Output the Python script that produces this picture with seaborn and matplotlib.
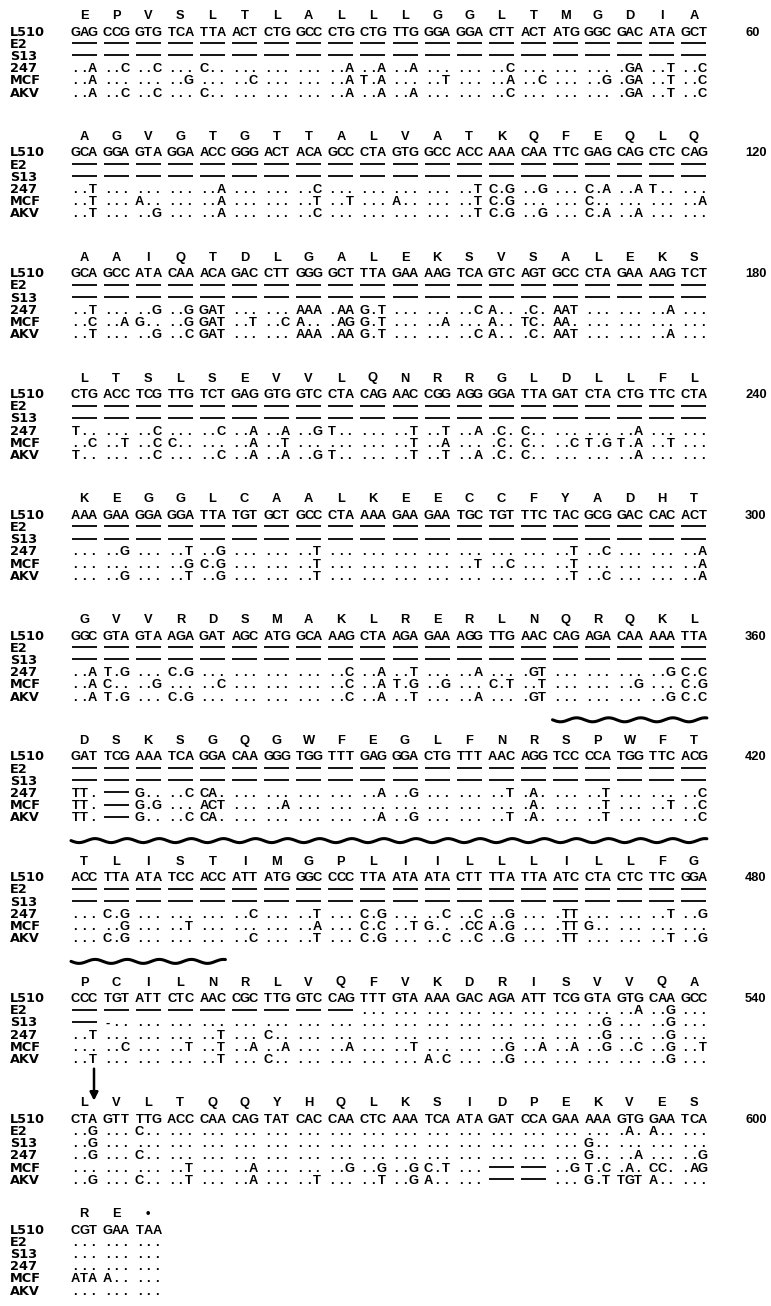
import numpy as np
import matplotlib
matplotlib.use("Agg")
import matplotlib.pyplot as plt
import seaborn as sns

# strain names, top to bottom
strains = ['L510', 'E2', 'S13', '247', 'MCF', 'AKV']
# last nucleotide number at the end of each L510 line
nt_numbers = ['60', '120', '180', '240', '300', '360', '420', '480', '540', '600', '']

aa_rows = [
    "E P V S L T L A L L L G G L T M G D I A",
    "A G V G T G T T A L V A T K Q F E Q L Q",
    "A A I Q T D L G A L E K S V S A L E K S",
    "L T S L S E V V L Q N R R G L D L L F L",
    "K E G G L C A A L K E E C C F Y A D H T",
    "G V V R D S M A K L R E R L N Q R Q K L",
    "D S K S G Q G W F E G L F N R S P W F T",
    "T L I S T I M G P L I I L L L I L L F G",
    "P C I L N R L V Q F V K D R I S V V Q A",
    "L V L T Q Q Y H Q L K S I D P E K V E S",
    "R E •",
]

l510_rows = [
    "GAG CCG GTG TCA TTA ACT CTG GCC CTG CTG TTG GGA GGA CTT ACT ATG GGC GAC ATA GCT",
    "GCA GGA GTA GGA ACC GGG ACT ACA GCC CTA GTG GCC ACC AAA CAA TTC GAG CAG CTC CAG",
    "GCA GCC ATA CAA ACA GAC CTT GGG GCT TTA GAA AAG TCA GTC AGT GCC CTA GAA AAG TCT",
    "CTG ACC TCG TTG TCT GAG GTG GTC CTA CAG AAC CGG AGG GGA TTA GAT CTA CTG TTC CTA",
    "AAA GAA GGA GGA TTA TGT GCT GCC CTA AAA GAA GAA TGC TGT TTC TAC GCG GAC CAC ACT",
    "GGC GTA GTA AGA GAT AGC ATG GCA AAG CTA AGA GAA AGG TTG AAC CAG AGA CAA AAA TTA",
    "GAT TCG AAA TCA GGA CAA GGG TGG TTT GAG GGA CTG TTT AAC AGG TCC CCA TGG TTC ACG",
    "ACC TTA ATA TCC ACC ATT ATG GGC CCC TTA ATA ATA CTT TTA TTA ATC CTA CTC TTC GGA",
    "CCC TGT ATT CTC AAC CGC TTG GTC CAG TTT GTA AAA GAC AGA ATT TCG GTA GTG CAA GCC",
    "CTA GTT TTG ACC CAA CAG TAT CAC CAA CTC AAA TCA ATA GAT CCA GAA AAA GTG GAA TCA",
    "CGT GAA TAA",
]

e2_rows = [
    "— — — — — — — — — — — — — — — — — — — —",
    "— — — — — — — — — — — — — — — — — — — —",
    "— — — — — — — — — — — — — — — — — — — —",
    "— — — — — — — — — — — — — — — — — — — —",
    "— — — — — — — — — — — — — — — — — — — —",
    "— — — — — — — — — — — — — — — — — — — —",
    "— — — — — — — — — — — — — — — — — — — —",
    "— — — — — — — — — — — — — — — — — — — —",
    "— — — — — — — — — ... ... ... ... ... ... ... ... ..A ..G ...",
    "..G ... C.. ... ... ... ... ... ... ... ... ... ... ... ... ... ... .A. A.. ...",
    "... ... ...",
]

s13_rows = [
    "— — — — — — — — — — — — — — — — — — — —",
    "— — — — — — — — — — — — — — — — — — — —",
    "— — — — — — — — — — — — — — — — — — — —",
    "— — — — — — — — — — — — — — — — — — — —",
    "— — — — — — — — — — — — — — — — — — — —",
    "— — — — — — — — — — — — — — — — — — — —",
    "— — — — — — — — — — — — — — — — — — — —",
    "— — — — — — — — — — — — — — — — — — — —",
    "— -.. ... ... ... ... ... ... ... ... ... ... ... ... ... ... ..G ... ..G ...",
    "..G ... ... ... ... ... ... ... ... ... ... ... ... ... ... ... G.. ... ... ...",
    "... ... ...",
]

r247_rows = [
    "..A ..C ..C ... C.. ... ... ... ..A ..A ..A ... ... ..C ... ... ... .GA ..T ..C",
    "..T ... ... ... ..A ... ... ..C ... ... ... ... ..T C.G ..G ... C.A ..A T.. ...",
    "..T ... ..G ..G GAT ... ... AAA .AA G.T ... ... ..C A.. .C. AAT ... ... ..A ...",
    "T.. ... ..C ... ..C ..A ..A ..G T.. ... ..T ..T ..A .C. C.. ... ... ..A ... ...",
    "... ..G ... ..T ..G ... ... ..T ... ... ... ... ... ... ... ..T ..C ... ... ..A",
    "..A T.G ... C.G ... ... ... ... ..C ..A ..T ... ..A ... .GT ... ... ... ..G C.C",
    "TT. — G.. ..C CA. ... ... ... ... ..A ..G ... ... ..T .A. ... ..T ... ... ..C",
    "... C.G ... ... ... ..C ... ..T ... C.G ... ..C ..C ..G ... .TT ... ... ..T ..G",
    "..T ... ... ... ..T ... C.. ... ... ... ... ... ... ... ... ... ..G ... ..G ...",
    "..G ... C.. ... ... ... ... ... ... ... ... ... ... ... ... ... G.. ..A ... ..G",
    "... ... ...",
]

mcf_rows = [
    "..A ... ... ..G ... ..C ... ... ..A T.A ... ..T ... ..A ..C ... ..G .GA ..T ..C",
    "..T ... A.. ... ..A ... ... ..T ..T ... A.. ... ..T C.G ... ... C.. ... ... ..A",
    "..C ..A G.. ..G GAT ..T ..C A.. .AG G.T ... ..A ... A.. TC. AA. ... ... ... ...",
    "..C ..T ..C C.. ... ..A ..T ... ... ... ..T ..A ... .C. C.. ..C T.G T.A ..T ...",
    "... ... ... ..G C.G ... ... ..T ... ... ... ... ..T ..C ... ..T ... ... ... ..A",
    "..A C.. ..G ... ..C ... ... ... ..C ..A T.G ..G ... C.T ..T ... ... ..G ... C.G",
    "TT. — G.G ... ACT ... ..A ... ... ... ... ... ... ... .A. ... ..T ... ..T ..C",
    "... ..G ... ..T ... ... ... ..A ... C.C ..T G.. .CC A.G ... .TT G.. ... ... ...",
    "... ..C ... ..T ..T ..A ..A ... ..A ... ..T ... ... ..G ..A ..A ..G ..C ..G ..T",
    "... ... ... ..T ... ..A ... ... ..G ..G ..G C.T ... — — ..G T.C .A. CC. .AG",
    "ATA A.. ...",
]

akv_rows = [
    "..A ..C ..C ... C.. ... ... ... ..A ..A ..A ... ... ..C ... ... ... .GA ..T ..C",
    "..T ... ..G ... ..A ... ... ..C ... ... ... ... ..T C.G ..G ... C.A ..A ... ...",
    "..T ... ..G ..C GAT ... ... AAA .AA G.T ... ... ..C A.. .C. AAT ... ... ..A ...",
    "T.. ... ..C ... ..C ..A ..A ..G T.. ... ..T ..T ..A .C. C.. ... ... ..A ... ...",
    "... ..G ... ..T ..G ... ... ..T ... ... ... ... ... ... ... ..T ..C ... ... ..A",
    "..A T.G ... C.G ... ... ... ... ..C ..A ..T ... ..A ... .GT ... ... ... ..G C.C",
    "TT. — G.. ..C CA. ... ... ... ... ..A ..G ... ... ..T .A. ... ..T ... ... ..C",
    "... C.G ... ... ... ..C ... ..T ... C.G ... ..C ..C ..G ... .TT ... ... ..T ..G",
    "..T ... ... ... ..T ... C.. ... ... ... ... A.C ... ..G ... ... ... ... ..G ...",
    "..G ... C.. ..T ... ..A ... ..T ... ..T ..G A.. ... — — ... G.T TGT A.. ...",
    "... ... ...",
]

# wavy overline (block index, first codon, last codon), 0-based
wavy_spans = [(6, 15, 19), (7, 0, 19), (8, 0, 4)]
# arrow: block index, codon index
arrow_at = (9, 0)

# ---- layout (pixels) ----
W, H = 771, 1306
LABEL_X = 10
X0, DX = 84, 32.1          # codon centres
CH = 8.6                   # nucleotide slot inside a codon
NUM_X = 745
BLOCK_Y = [31 + 120.8 * b for b in range(10)] + [1229]   # L510 row of each block
RDY = 12.2                 # row spacing
AA_DY = -16.5
FS = 9.3
BASE = 4.6                 # centre -> baseline

sns.set_theme(style="white")
plt.rcParams['font.family'] = ['Liberation Sans Narrow', 'Liberation Sans', 'DejaVu Sans']

fig = plt.figure(figsize=(W / 100, H / 100), dpi=100)
ax = fig.add_axes([0, 0, 1, 1])
ax.set_xlim(0, W)
ax.set_ylim(H, 0)
ax.axis('off')

txt = dict(fontsize=FS, fontweight='bold', color='black', va='baseline', ha='center')
lab = dict(fontsize=FS, fontweight='bold', color='black', va='baseline', ha='left')

all_rows = [l510_rows, e2_rows, s13_rows, r247_rows, mcf_rows, akv_rows]

for b, yb in enumerate(BLOCK_Y):
    for i, a in enumerate(aa_rows[b].split()):
        ax.text(X0 + i * DX, yb + AA_DY + BASE, a, **txt)
    for r, (name, rows) in enumerate(zip(strains, all_rows)):
        y = yb + r * RDY
        ax.text(LABEL_X, y + BASE, name, family=['DejaVu Sans'], **lab)
        for i, t in enumerate(rows[b].split()):
            x = X0 + i * DX
            if t == '—':
                ax.plot([x - 12.5, x + 12.5], [y, y], color='black', lw=1.3,
                        solid_capstyle='butt')
                continue
            for k, ch in enumerate(t):
                ax.text(x + (k - 1) * CH, y + BASE, ch, **txt)
    if nt_numbers[b]:
        ax.text(NUM_X, yb + BASE, nt_numbers[b], **lab)

# transmembrane overline
for b, c0, c1 in wavy_spans:
    yw = BLOCK_Y[b] - 36
    xs = np.linspace(X0 + c0 * DX - 13, X0 + c1 * DX + 13, 500)
    ys = yw + 2.0 * np.sin((xs - xs[0]) / DX * 2 * np.pi)
    sns.lineplot(x=xs, y=ys, ax=ax, color='black', lw=2.2, sort=False)

# arrow
b, c = arrow_at
xa = X0 + c * DX + 10
ya = BLOCK_Y[b] + AA_DY
ax.annotate('', xy=(xa, ya - 1), xytext=(xa, ya - 33),
            arrowprops=dict(arrowstyle='-|>', lw=1.8, color='black',
                            mutation_scale=12, shrinkA=0, shrinkB=0))

fig.savefig('out.png', dpi=100)
